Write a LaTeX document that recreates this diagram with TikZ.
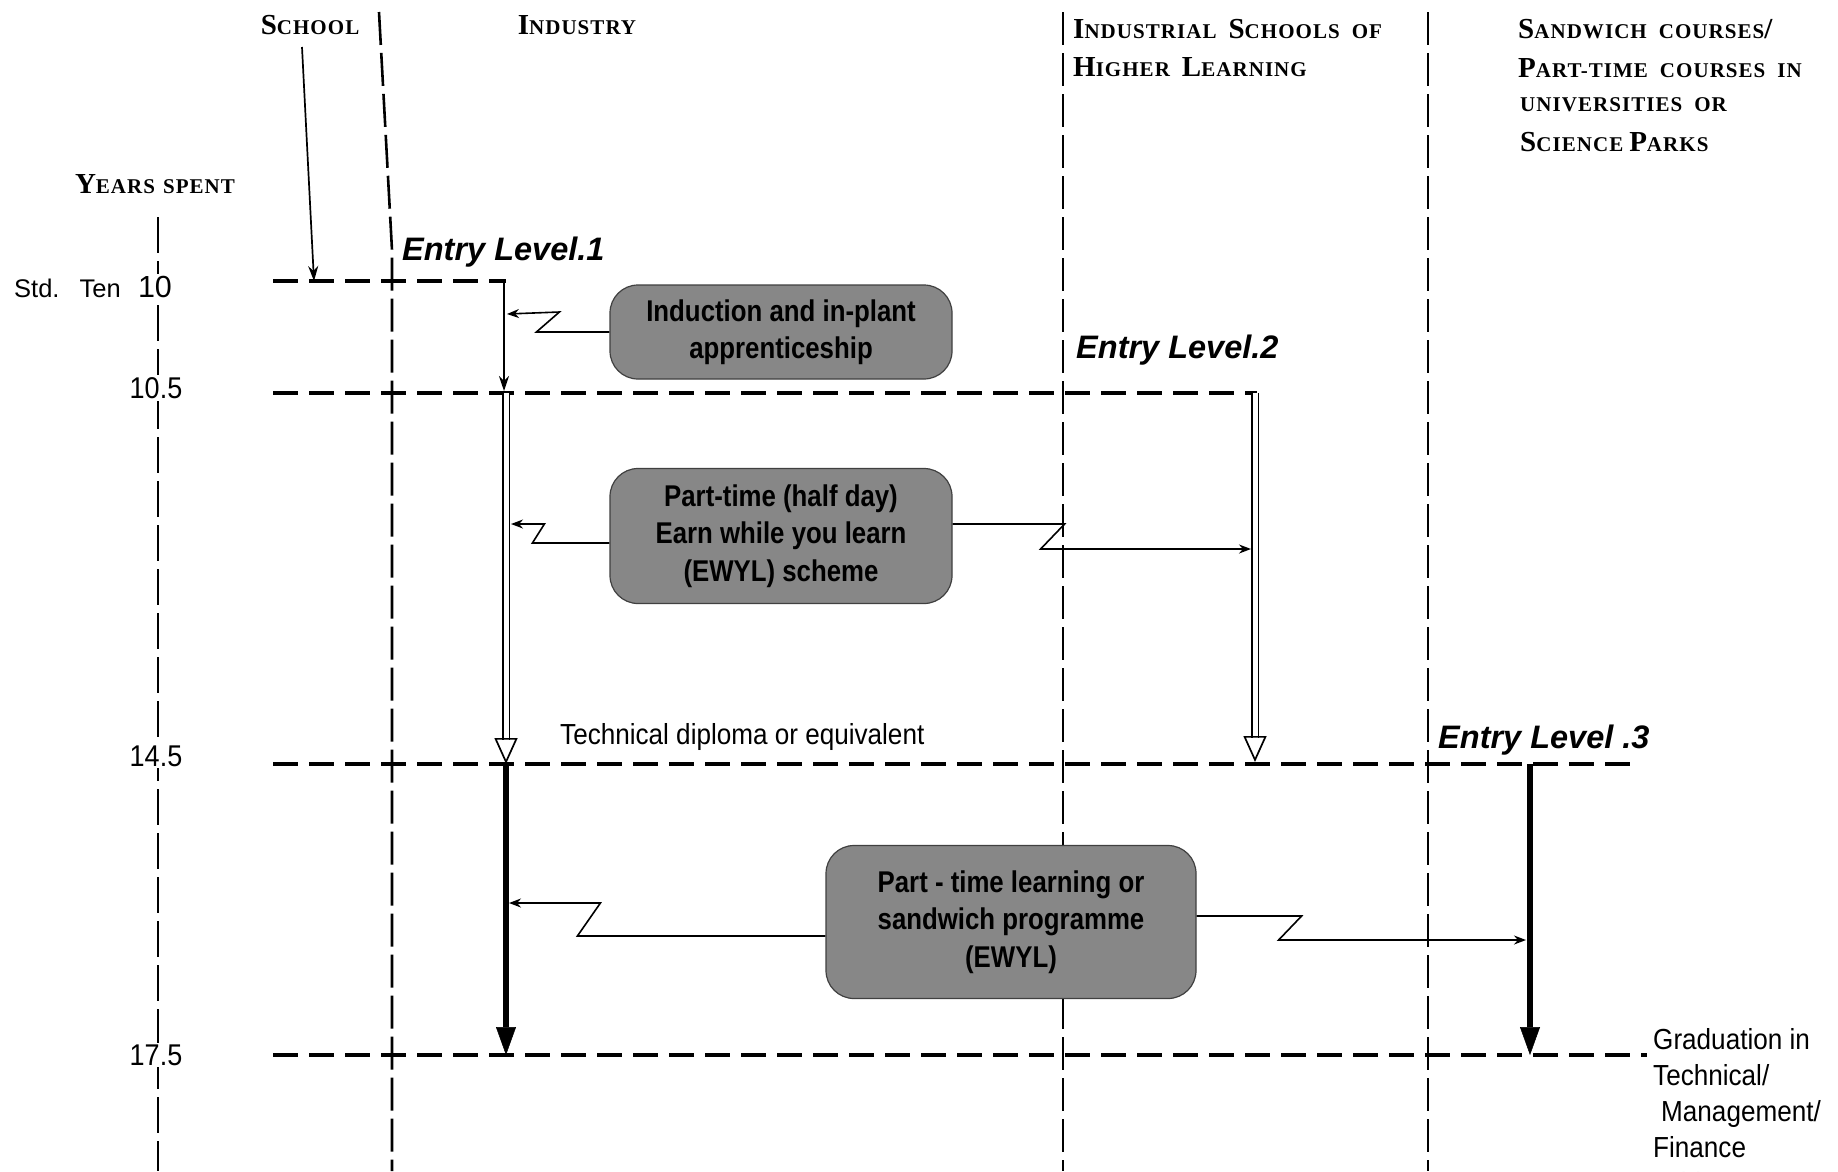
\documentclass[tikz,border=0pt]{standalone}
\usepackage{fontspec}
\setmainfont{Liberation Sans}
\newfontfamily\hdfont[LetterSpace=5]{Liberation Serif}
\newfontfamily\narrowsans[FakeStretch=0.9]{Liberation Sans}
\newfontfamily\boxsans[FakeStretch=0.86]{Liberation Sans}
\usetikzlibrary{arrows.meta,calc}
\newcommand{\hbig}[1]{{\fontsize{29}{34}\selectfont #1}}
\newcommand{\hsml}[1]{{\fontsize{21}{34}\selectfont #1}}
\newcommand{\hgap}{\hspace{12pt}}
\begin{document}
\begin{tikzpicture}[x=1pt,y=-1pt,
  hdr/.style={inner sep=0pt, anchor=west, font={\hdfont\bfseries\fontsize{21}{34}\selectfont}},
  tick/.style={fill=white, inner sep=2pt, font={\narrowsans\fontsize{30}{34}\selectfont}},
  hline/.style={line width=3.8pt, dash pattern=on 25pt off 11pt},
  vline/.style={line width=2.6pt, dash pattern=on 33pt off 8pt},
  axisline/.style={line width=2.8pt, dash pattern=on 36pt off 8pt},
  procbox/.style={draw=black!75, line width=1.2pt, fill=black!47, rounded corners=28pt, align=center, inner sep=0pt, font={\boxsans\bfseries\fontsize{30}{37.5}\selectfont}},
  entry/.style={inner sep=0pt, anchor=west, font={\bfseries\itshape\fontsize{32.5}{36}\selectfont}},
  plainlbl/.style={inner sep=0pt, font={\narrowsans\fontsize{29}{36}\selectfont}},
  thinarr/.style={line width=1.7pt, -{Stealth[length=15pt,width=10pt]}},
  zz/.style={line width=1.6pt, -{Stealth[length=12pt,width=9pt]}},
  thickarr/.style={line width=6pt, -{Triangle[length=28pt,width=20pt,line width=0.5pt]}},
  dbl/.style={line width=1.3pt, double distance=5pt},
  hollow/.style={line width=1.7pt, -{Triangle[open,length=26pt,width=23pt]}},
]
\fill[white] (0,0) rectangle (1838,1171);
\useasboundingbox (0,0) rectangle (1838,1171);

% ---------- coordinates ----------
\coordinate (d1top) at (379,12);
\coordinate (d1bend) at (392,250);
\coordinate (d1bot) at (392,1171);
\coordinate (d2top) at (1063,12);
\coordinate (d2bot) at (1063,1171);
\coordinate (d3top) at (1428,12);
\coordinate (d3bot) at (1428,1171);
\coordinate (axtop) at (158,217);
\coordinate (axbot) at (158,1171);

\coordinate (hAl) at (273,281);  \coordinate (hAr) at (506,281);
\coordinate (hBl) at (273,393);  \coordinate (hBr) at (1257,393);
\coordinate (hCl) at (273,764);  \coordinate (hCr) at (1633,764);
\coordinate (hDl) at (273,1055); \coordinate (hDr) at (1647,1055);

% ---------- dividers and axis ----------
\draw[vline] (d1top) -- (d1bend) -- (d1bot);
\draw[vline] (d2top) -- (d2bot);
\draw[vline] (d3top) -- (d3bot);
\draw[axisline] (axtop) -- (axbot);

% ---------- horizontal year lines ----------
\draw[hline] (hAl) -- (hAr);
\draw[hline] (hBl) -- (hBr);
\draw[hline] (hCl) -- (hCr);
\draw[hline] (hDl) -- (hDr);

% ---------- headers ----------
\node[hdr, anchor=center] (hSchool) at (310,25) {\hbig{S}\hsml{CHOOL}};
\node[hdr, anchor=center] (hInd) at (577,25) {\hbig{I}\hsml{NDUSTRY}};
\node[hdr] (hISH1) at (1073,29) {\hbig{I}\hsml{NDUSTRIAL}\hgap\hbig{S}\hsml{CHOOLS}\hgap\hsml{OF}};
\node[hdr] (hISH2) at (1073,67) {\hbig{H}\hsml{IGHER}\hgap\hbig{L}\hsml{EARNING}};
\node[hdr] (hSW1) at (1518,29) {\hbig{S}\hsml{ANDWICH}\hgap\hsml{COURSES}\hbig{/}};
\node[hdr] (hSW2) at (1518,68) {\hbig{P}\hsml{ART-TIME}\hgap\hsml{COURSES}\hgap\hsml{IN}};
\node[hdr] (hSW3) at (1520,105) {\hsml{UNIVERSITIES}\hgap\hsml{OR}};
\node[hdr] (hSW4) at (1520,142) {\hbig{S}\hsml{CIENCE}\hspace{6pt}\hbig{P}\hsml{ARKS}};
\node[hdr, anchor=center] (hYears) at (155,184) {\hbig{Y}\hsml{EARS}\hspace{8pt}\hsml{SPENT}};

% ---------- axis labels ----------
\node[inner sep=0pt, anchor=base west, font={\fontsize{25.5}{30}\selectfont}] (stdten) at (14,297) {Std.\hspace{20pt}Ten};
\node[tick, anchor=base, font={\fontsize{30.5}{34}\selectfont}] (y10) at (155,297) {10};
\node[tick] (y105) at (156,388) {10.5};
\node[tick] (y145) at (156,756) {14.5};
\node[tick] (y175) at (156,1055) {17.5};

% ---------- school arrow ----------
\coordinate (sA) at (302,47);
\coordinate (sB) at (314,281);
\draw[thinarr] (sA) -- (sB);

% ---------- industry arrows ----------
\coordinate (iA) at (504,281);
\coordinate (iB) at (504,391);
\draw[thinarr] (iA) -- (iB);

\coordinate (dLt) at (506,393);
\coordinate (dLb) at (506,740);
\coordinate (dLh) at (506,738);
\coordinate (dLtip) at (506,764);
\draw[dbl] (dLt) -- (dLb);
\draw[hollow] (dLh) -- (dLtip);

\coordinate (dRt) at (1255,393);
\coordinate (dRb) at (1255,738);
\coordinate (dRh) at (1255,736);
\coordinate (dRtip) at (1255,762);
\draw[dbl] (dRt) -- (dRb);
\draw[hollow] (dRh) -- (dRtip);

\coordinate (kLt) at (506,764);
\coordinate (kLb) at (506,1055);
\draw[thickarr] (kLt) -- (kLb);
\coordinate (kRt) at (1530,764);
\coordinate (kRb) at (1530,1055);
\draw[thickarr] (kRt) -- (kRb);

% ---------- boxes ----------
\node[procbox, minimum width=342pt, minimum height=94pt] (box1) at (781,332)
  {Induction and in-plant\\apprenticeship};
\node[procbox, minimum width=342pt, minimum height=135pt] (box2) at (781,536)
  {Part-time (half day)\\Earn while you learn\\(EWYL) scheme};
\node[procbox, minimum width=370pt, minimum height=153pt] (box3) at (1011,922)
  {Part - time learning or\\sandwich programme\\(EWYL)};

% ---------- zigzag connectors ----------
\coordinate (t1) at (507,314);
\draw[zz] (box1.west) -- ++(-73,0) -- ++(23,-20) -- (t1);
\coordinate (t2) at (511,524);
\draw[zz] ($(box2.west)+(0,7)$) -- ++(-77,0) -- ++(12,-19) -- (t2);
\coordinate (t3) at (1251,549);
\draw[zz] ($(box2.east)+(0,-12)$) -- ++(112,0) -- ++(-24,25) -- (t3);
\coordinate (t4) at (509,903);
\draw[zz] ($(box3.west)+(0,14)$) -- ++(-248,0) -- ++(23,-33) -- (t4);
\coordinate (t5) at (1526,940);
\draw[zz] ($(box3.east)+(0,-6)$) -- ++(105,0) -- ++(-23,24) -- (t5);

% ---------- labels ----------
\node[entry] (el1) at (402,252) {Entry Level.1};
\node[entry] (el2) at (1076,350) {Entry Level.2};
\node[entry] (el3) at (1438,740) {Entry Level .3};
\node[plainlbl, anchor=west] (techdip) at (560,737) {Technical diploma or equivalent};
\node[plainlbl, anchor=north west, align=left] (grad) at (1653,1028)
  {Graduation in\\Technical/\\\hspace*{8pt}Management/\\Finance\\subjects};
\end{tikzpicture}
\end{document}
